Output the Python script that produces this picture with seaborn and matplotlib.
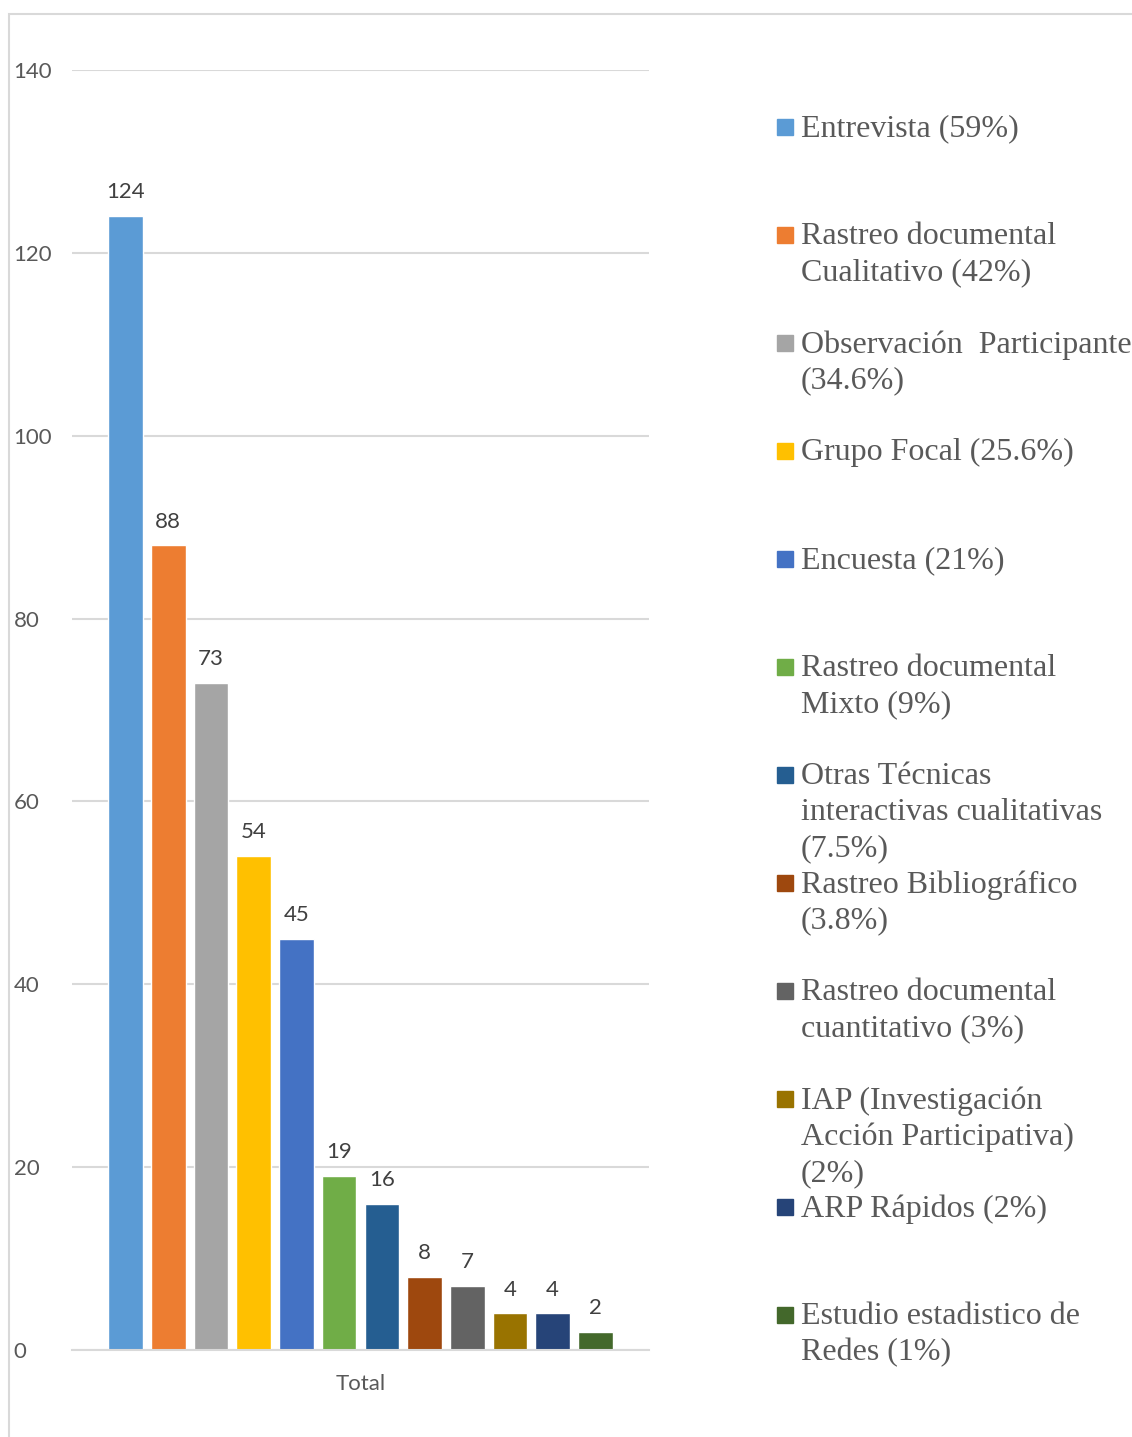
import pandas as pd
import matplotlib.pyplot as plt
import seaborn as sns
from matplotlib.patches import Rectangle

# Datos del gráfico
tecnicas = [
    "Entrevista (59%)",
    "Rastreo documental\nCualitativo (42%)",
    "Observación  Participante\n(34.6%)",
    "Grupo Focal (25.6%)",
    "Encuesta (21%)",
    "Rastreo documental\nMixto (9%)",
    "Otras Técnicas\ninteractivas cualitativas\n(7.5%)",
    "Rastreo Bibliográfico\n(3.8%)",
    "Rastreo documental\ncuantitativo (3%)",
    "IAP (Investigación\nAcción Participativa)\n(2%)",
    "ARP Rápidos (2%)",
    "Estudio estadistico de\nRedes (1%)",
]
cantidades = [124, 88, 73, 54, 45, 19, 16, 8, 7, 4, 4, 2]
colores = ["#5B9BD5", "#ED7D31", "#A5A5A5", "#FFC000", "#4472C4", "#70AD47",
           "#255E91", "#9E480E", "#636363", "#997300", "#264478", "#43682B"]
grupo = ["Total"] * len(cantidades)

df = pd.DataFrame({"grupo": grupo, "tecnica": tecnicas, "n": cantidades})

W, H = 1132, 1437
sns.set_style("white")
plt.rcParams["font.family"] = ["Lato", "DejaVu Sans"]

fig = plt.figure(figsize=(W / 100, H / 100), dpi=100)
ax = fig.add_axes([72 / W, 1 - 1350 / H, (649 - 72) / W, (1350 - 70) / H])

sns.barplot(data=df, x="grupo", y="n", hue="tecnica", hue_order=tecnicas,
            palette=colores, saturation=1, width=0.888, gap=0.19,
            legend=False, ax=ax)

ax.set_ylim(0, 140)
ax.set_xlim(-0.5, 0.5)
ax.set_yticks(range(0, 141, 20))
ax.grid(axis="y", color="#D9D9D9", linewidth=1.5)
ax.set_axisbelow(True)
for s in ["top", "right", "left"]:
    ax.spines[s].set_visible(False)
ax.spines["bottom"].set_color("#D9D9D9")
ax.spines["bottom"].set_linewidth(1.5)
ax.tick_params(axis="both", length=0, labelsize=16, labelcolor="#595959")
ax.tick_params(axis="y", pad=42)
ax.tick_params(axis="x", pad=17)
for lbl in ax.get_yticklabels():
    lbl.set_horizontalalignment("left")
ax.set_xlabel("")
ax.set_ylabel("")

# Etiquetas de datos
for cont in ax.containers:
    ax.bar_label(cont, padding=10, fontsize=16, color="#404040")

# Leyenda (estilo Excel, con espacios fijos)
serif = ["Liberation Serif", "DejaVu Serif"]
for i, (t, c) in enumerate(zip(tecnicas, colores)):
    yb = 137 + i * 108
    fig.patches.append(Rectangle((777 / W, 1 - (yb - 2) / H), 16 / W, 16 / H,
                                 transform=fig.transFigure, color=c))
    fig.text(801 / W, 1 - (yb - 23) / H, t, fontsize=23, family=serif,
             color="#595959", va="top", ha="left", linespacing=1.32)

# Borde del área del gráfico
fig.patches.append(Rectangle((9 / W, -0.1), 1.2, 1.1 - 14 / H, transform=fig.transFigure,
                             fill=False, edgecolor="#D9D9D9", linewidth=1.5))

fig.savefig("out.png", dpi=100)
